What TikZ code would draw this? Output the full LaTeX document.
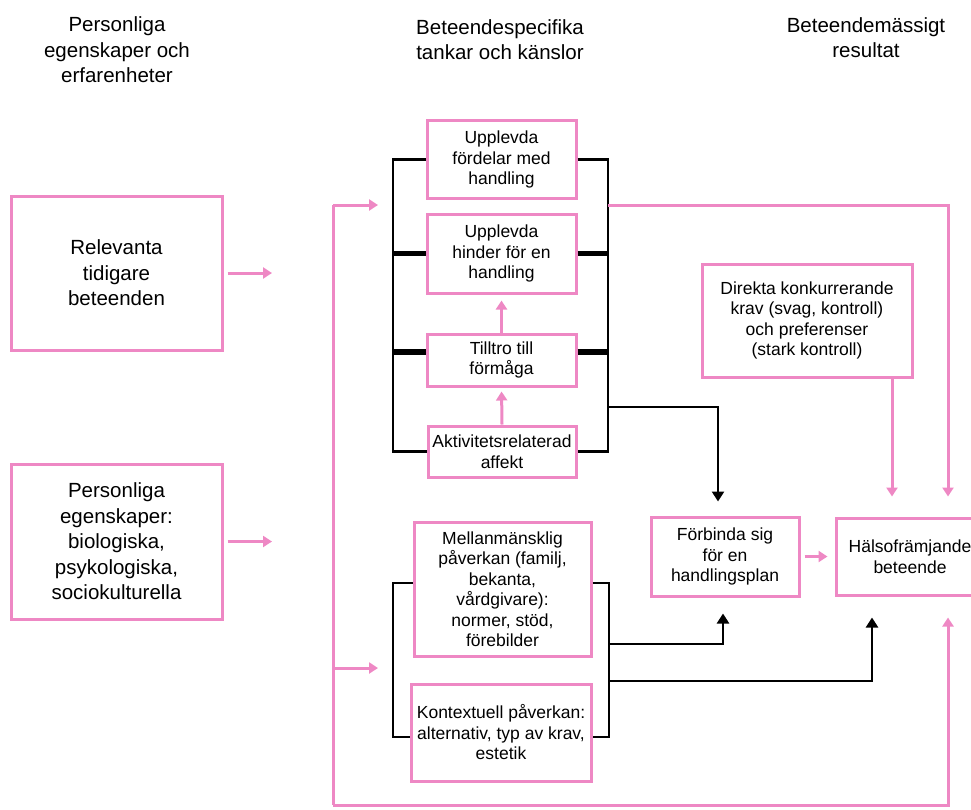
\documentclass[tikz,border=0pt]{standalone}
\usepackage{fontspec}
\setmainfont{Liberation Sans}
\usetikzlibrary{arrows.meta}
\definecolor{rosa}{RGB}{238,136,196}
\tikzset{
  box/.style={draw=rosa,line width=3pt,align=center,inner sep=0pt,font=\fontsize{17.5}{20.5}\selectfont},
  bigbox/.style={box,font=\fontsize{20.5}{25.5}\selectfont},
  head/.style={align=center,font=\fontsize{20.5}{25.5}\selectfont},
  rosaline/.style={draw=rosa,line width=3pt},
  pil/.style={rosaline,-{Triangle[width=11pt,length=9pt]}},
  brak/.style={draw=black,line width=2.8pt},
  tjock/.style={draw=black,line width=5.5pt},
  svpil/.style={brak,-{Triangle[width=12pt,length=10pt]}}
}
\begin{document}
\begin{tikzpicture}[x=1pt,y=-1pt]
      \def\bl{393};
      \def\br{608};
      \def\fb{333};
      \useasboundingbox (0,0) rectangle (971,809);
      \node[head] (h1) at (117,50) {Personliga\\egenskaper och\\erfarenheter};
      \node[head] (h2) at (500,39.5) {Beteendespecifika\\tankar och känslor};
      \node[head] (h3) at (866,37.5) {Beteendemässigt\\resultat};
      \node[bigbox,minimum width=211pt,minimum height=154pt] (rel) at (116.5,273) {Relevanta\\tidigare\\beteenden};
      \node[bigbox,minimum width=211pt,minimum height=155pt] (pers) at (116.5,541.5) {Personliga\\egenskaper:\\biologiska,\\psykologiska,\\sociokulturella};
      \coordinate (relpil) at (272,273);
      \coordinate (perspil) at (272,541.5);
      \draw[pil] ([xshift=4pt]rel.east) -- (relpil);
      \draw[pil] ([xshift=4pt]pers.east) -- (perspil);
      \node[box,minimum width=149pt,minimum height=78pt] (ford) at (501.5,159.5) {Upplevda\\fördelar med\\handling};
      \node[box,minimum width=149pt,minimum height=79pt] (hind) at (501.5,253.5) {Upplevda\\hinder för en\\handling};
      \node[box,minimum width=149pt,minimum height=52pt] (till) at (501.5,360) {Tilltro till\\förmåga};
      \node[box,minimum width=148pt,minimum height=51pt] (akt) at (502,451.5) {Aktivitetsrelaterad\\affekt};
      \draw[pil,shorten >=6pt] (till.north) -- (hind.south);
      \draw[pil,shorten >=4pt] (akt.north) -- (till.south);
      \draw[brak] (ford.west) -- (\bl,159.5) |- (akt.west);
      \draw[brak] (ford.east) -- (\br,159.5) |- (akt.east);
      \draw[tjock] (hind.west) -- (\bl,253.5);
      \draw[tjock] (hind.east) -- (\br,253.5);
      \draw[tjock] ([yshift=8pt]till.west) -- (\bl,352);
      \draw[tjock] ([yshift=8pt]till.east) -- (\br,352);
      \node[box,minimum width=177pt,minimum height=134pt] (mell) at (502.5,589) {Mellanmänsklig\\påverkan (familj,\\bekanta,\\vårdgivare):\\normer, stöd,\\förebilder};
      \node[box,minimum width=180pt,minimum height=97pt] (kont) at (501,732.5) {Kontextuell påverkan:\\alternativ, typ av krav,\\estetik};
      \draw[brak] ([yshift=6pt]mell.west) -- (\bl,583) |- ([yshift=-4.5pt]kont.west);
      \draw[brak] ([yshift=6pt]mell.east) -- (\br+1,583) |- ([yshift=-4.5pt]kont.east);
      \node[box,minimum width=210pt,minimum height=113pt] (dir) at (807,320.5) {Direkta konkurrerande\\krav (svag, kontroll)\\och preferenser\\(stark kontroll)};
      \node[box,minimum width=148pt,minimum height=79pt] (forb) at (725,556.5) {Förbinda sig\\för en\\handlingsplan};
      \node[box,minimum width=148pt,minimum height=77pt] (hals) at (910,556.5) {Hälsofrämjande\\beteende};
      \draw[pil,shorten <=4pt,shorten >=7pt] (forb.east) -- (hals.west);
      \draw[pil,shorten >=20pt] ([xshift=85pt]dir.south) -- ([xshift=-18pt]hals.north);
      \coordinate (ut1) at (\br,205);
      \coordinate (ut2) at (\br,407);
      \coordinate (ut3) at (\br+1,644);
      \coordinate (ut4) at (\br+1,681);
      \draw[pil,shorten >=20pt] (ut1) -| ([xshift=38pt]hals.north);
      \draw[svpil,shorten >=14pt] (ut2) -| ([xshift=-7pt]forb.north);
      \draw[svpil,shorten >=16pt] (ut3) -| ([xshift=-2pt]forb.south);
      \draw[svpil,shorten >=21pt] (ut4) -| ([xshift=-38pt]hals.south);
      \coordinate (fb1) at (\fb,205);
      \coordinate (fb2) at (\fb,668);
      \coordinate (fb3) at (\fb,805);
      \coordinate (fbpil1) at (378,205);
      \coordinate (fbpil2) at (378,668);
      \draw[rosaline] (fb1) -- (fb3);
      \draw[pil] (fb1) -- (fbpil1);
      \draw[pil] (fb2) -- (fbpil2);
      \draw[pil,shorten >=21pt] (fb3) -| ([xshift=38pt]hals.south);
\end{tikzpicture}
\end{document}
